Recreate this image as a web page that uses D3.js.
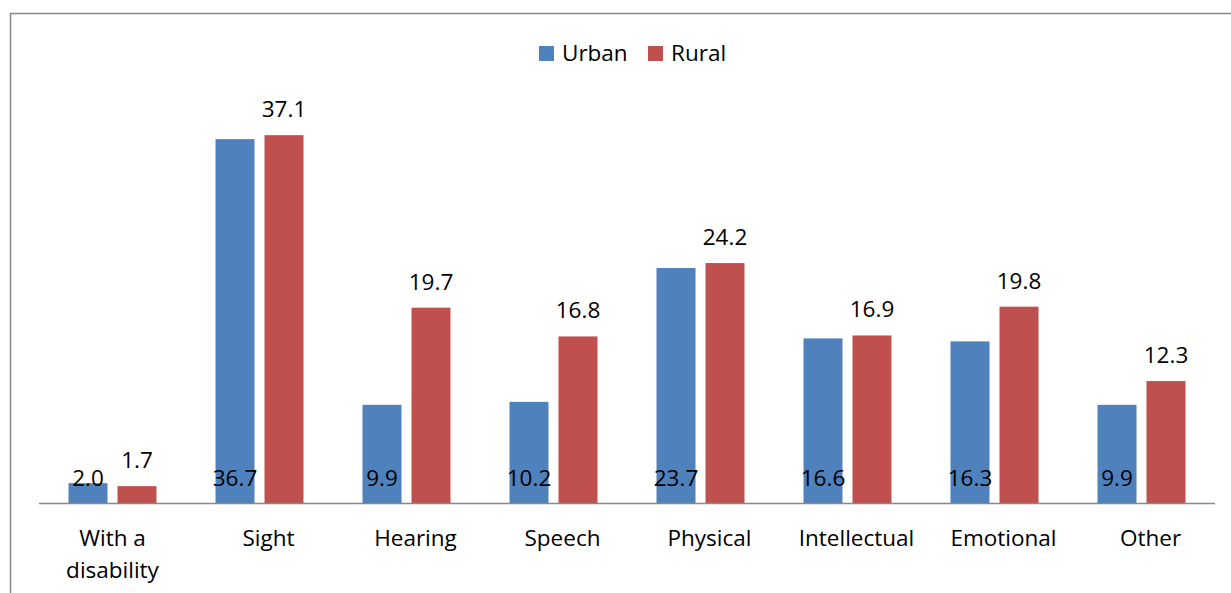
<!DOCTYPE html>
<script src="https://d3js.org/d3.v7.min.js"></script>
<style>
    body { margin: 0; background: #fff; }
    text { font-family: "Open Sans", "Noto Sans", sans-serif; fill: #000; }
</style>
<svg width=1231 height=593></svg>
<script>
    var categories = ["With a|disability", "Sight", "Hearing", "Speech", "Physical", "Intellectual", "Emotional", "Other"];
    var urban = [2.0, 36.7, 9.9, 10.2, 23.7, 16.6, 16.3, 9.9];
    var rural = [1.7, 37.1, 19.7, 16.8, 24.2, 16.9, 19.8, 12.3];
    var seriesNames = ["Urban", "Rural"];
    var colors = ["#4F81BD", "#C0504D"];

    var svg = d3.select("svg");
    var fontSize = 22.5;

    // chart frame
    svg.append("path")
        .attr("d", "M10.5,600 L10.5,13.5 L1240,13.5")
        .attr("fill", "none")
        .attr("stroke", "#888")
        .attr("stroke-width", 1.5);

    var baseY = 503;
    var x = d3.scaleBand().domain(categories).range([39, 1215]);
    var y = d3.scaleLinear().domain([0, 40]).range([baseY, baseY - 396.6]);
    var bw = 39, gap = 10;

    var g = svg.append("g");
    categories.forEach(function(c, i) {
        var cx = x(c) + x.bandwidth() / 2;
        [urban[i], rural[i]].forEach(function(v, s) {
            var x0 = s == 0 ? cx - gap / 2 - bw : cx + gap / 2;
            g.append("rect")
                .attr("x", x0)
                .attr("y", y(v))
                .attr("width", bw)
                .attr("height", y(0) - y(v))
                .attr("fill", colors[s]);
        });
    });

    // axis line
    svg.append("line")
        .attr("x1", 39).attr("x2", 1215)
        .attr("y1", baseY + 0.5).attr("y2", baseY + 0.5)
        .attr("stroke", "#888").attr("stroke-width", 1.5);

    // data labels
    categories.forEach(function(c, i) {
        var cx = x(c) + x.bandwidth() / 2;
        svg.append("text")
            .attr("x", cx - gap / 2 - bw / 2)
            .attr("y", y(0) - 17)
            .attr("text-anchor", "middle")
            .style("font-size", fontSize + "px")
            .text(urban[i].toFixed(1));
        svg.append("text")
            .attr("x", cx + gap / 2 + bw / 2)
            .attr("y", y(rural[i]) - 18)
            .attr("text-anchor", "middle")
            .style("font-size", fontSize + "px")
            .text(rural[i].toFixed(1));
    });

    // category labels (single-line ones sit a little right of centre)
    categories.forEach(function(c) {
        var lines = c.split("|");
        var shift = lines.length > 1 ? 0 : 9;
        var t = svg.append("text")
            .attr("text-anchor", "middle")
            .style("font-size", fontSize + "px");
        lines.forEach(function(line, k) {
            t.append("tspan")
                .attr("x", x(c) + x.bandwidth() / 2 + shift)
                .attr("y", 546 + k * 32)
                .text(line);
        });
    });

    // legend
    var legX = [539, 648];
    seriesNames.forEach(function(n, s) {
        svg.append("rect")
            .attr("x", legX[s]).attr("y", 46)
            .attr("width", 15).attr("height", 15)
            .attr("fill", colors[s]);
        svg.append("text")
            .attr("x", legX[s] + 23).attr("y", 61)
            .style("font-size", fontSize + "px")
            .text(n);
    });
</script>
